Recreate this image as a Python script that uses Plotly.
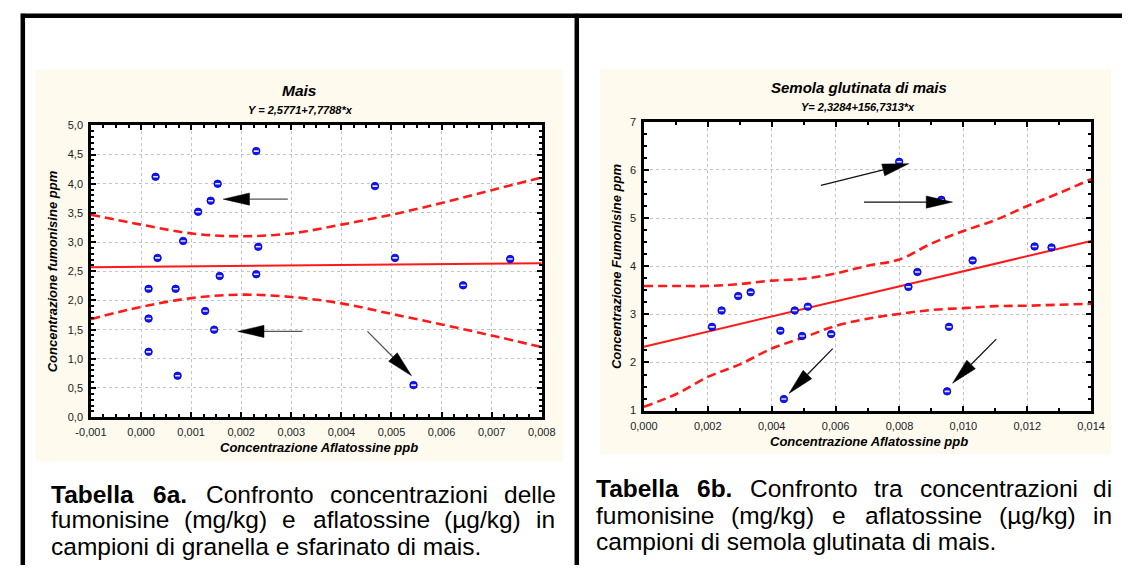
import plotly.graph_objects as go

# ---------------- data ----------------
# Panel a: Mais
maize_afla = [0.00029, 0.00033, 0.00015, 0.00069, 0.00084, 0.00114, 0.00139, 0.00153,
              0.00157, 0.00230, 0.00234, 0.00230, 0.00015, 0.00015, 0.00073, 0.00128,
              0.00146, 0.00467, 0.00507, 0.00737, 0.00643, 0.00544]
maize_fumo = [4.12, 2.73, 2.20, 2.20, 3.02, 3.52, 3.71, 4.00,
              2.42, 4.56, 2.92, 2.45, 1.69, 1.12, 0.71, 1.82,
              1.50, 3.96, 2.73, 2.71, 2.26, 0.55]
maize_fit_x = [-0.001, 0.008]
maize_fit_y = [2.569, 2.639]
maize_band_x = [-0.001, 0.000, 0.001, 0.002, 0.003, 0.004, 0.005, 0.006, 0.007, 0.008]
maize_upper = [3.47, 3.30, 3.15, 3.10, 3.15, 3.30, 3.47, 3.67, 3.89, 4.11]
maize_lower = [1.68, 1.89, 2.04, 2.10, 2.06, 1.95, 1.77, 1.59, 1.40, 1.20]
maize_xticks = [-0.001, 0.000, 0.001, 0.002, 0.003, 0.004, 0.005, 0.006, 0.007, 0.008]
maize_xlabels = ["-0,001", "0,000", "0,001", "0,002", "0,003", "0,004", "0,005", "0,006", "0,007", "0,008"]
maize_yticks = [0.0, 0.5, 1.0, 1.5, 2.0, 2.5, 3.0, 3.5, 4.0, 4.5, 5.0]
maize_ylabels = ["0,0", "0,5", "1,0", "1,5", "2,0", "2,5", "3,0", "3,5", "4,0", "4,5", "5,0"]
# arrows: (tail_x, tail_y, tip_x, tip_y) in data units
maize_arrows = [(0.00293, 3.737, 0.00164, 3.737),
                (0.00322, 1.47, 0.00193, 1.47),
                (0.00452, 1.47, 0.00540, 0.71)]

# Panel b: Semola glutinata di mais
semola_afla = [0.00213, 0.00243, 0.00295, 0.00334, 0.00427, 0.00438, 0.00472, 0.00495,
               0.00513, 0.00586, 0.00799, 0.00931, 0.00856, 0.00828, 0.01029, 0.01223,
               0.01276, 0.00955, 0.00949]
semola_fumo = [2.74, 3.08, 3.38, 3.46, 2.66, 1.24, 3.08, 2.55,
               3.16, 2.59, 6.17, 5.38, 3.88, 3.57, 4.12, 4.41,
               4.39, 2.74, 1.40]
semola_fit_x = [0.000, 0.014]
semola_fit_y = [2.328, 4.522]
semola_band_x = [0.000, 0.001, 0.002, 0.003, 0.004, 0.005, 0.006, 0.007,
                 0.008, 0.009, 0.010, 0.011, 0.012, 0.013, 0.014]
semola_upper = [3.59, 3.59, 3.59, 3.63, 3.70, 3.74, 3.85, 4.01,
                4.14, 4.47, 4.73, 4.96, 5.25, 5.52, 5.81]
semola_lower = [1.08, 1.34, 1.70, 1.96, 2.29, 2.52, 2.76, 2.91,
                3.01, 3.09, 3.13, 3.17, 3.18, 3.20, 3.22]
semola_xticks = [0.000, 0.002, 0.004, 0.006, 0.008, 0.010, 0.012, 0.014]
semola_xlabels = ["0,000", "0,002", "0,004", "0,006", "0,008", "0,010", "0,012", "0,014"]
semola_yticks = [1, 2, 3, 4, 5, 6, 7]
semola_ylabels = ["1", "2", "3", "4", "5", "6", "7"]
semola_arrows = [(0.00554, 5.678, 0.00829, 6.131),
                 (0.00689, 5.332, 0.00966, 5.332),
                 (0.00591, 2.287, 0.00454, 1.358),
                 (0.01103, 2.485, 0.00966, 1.569)]

caption_a = ["<b>Tabella 6a.</b> Confronto concentrazioni delle",
             "fumonisine (mg/kg) e aflatossine (µg/kg) in",
             "campioni di granella e sfarinato di mais."]
caption_b = ["<b>Tabella 6b.</b> Confronto tra concentrazioni di",
             "fumonisine (mg/kg) e aflatossine (µg/kg) in",
             "campioni di semola glutinata di mais."]

# ---------------- layout geometry (pixels) ----------------
W, H = 1136, 571
FONT = "Liberation Sans, Arial, Helvetica, sans-serif"
CREAM = "#FEFAEE"
BOX_A = (77, 122, 540, 420)      # plot area: left, top, right, bottom
BOX_B = (645, 118.3, 1104.3, 413.3)
CARD_A = (20, 64, 562, 465)
CARD_B = (600, 64, 1125, 458)
XR_A, YR_A = (-0.001, 0.008), (0.0, 5.0)
XR_B, YR_B = (0.0, 0.014), (1.0, 7.0)


def px(x):
    return x / W


def py(y):
    return 1 - y / H


fig = go.Figure()

band_style = dict(color="#FF1A1A", width=2.6, dash="9px,5px", shape="spline")
fit_style = dict(color="#FF1A1A", width=2)

# panel a traces
fig.add_trace(go.Scatter(x=maize_band_x, y=maize_upper, mode="lines", line=band_style,
                         xaxis="x", yaxis="y", hoverinfo="skip"))
fig.add_trace(go.Scatter(x=maize_band_x, y=maize_lower, mode="lines", line=band_style,
                         xaxis="x", yaxis="y", hoverinfo="skip"))
fig.add_trace(go.Scatter(x=maize_fit_x, y=maize_fit_y, mode="lines", line=fit_style,
                         xaxis="x", yaxis="y", hoverinfo="skip"))
fig.add_trace(go.Scatter(x=maize_afla, y=maize_fumo, mode="markers",
                         marker=dict(size=7.5, color="#1414FF", line=dict(color="#0000B0", width=0.8)),
                         xaxis="x", yaxis="y"))
fig.add_trace(go.Scatter(x=maize_afla, y=maize_fumo, mode="markers",
                         marker=dict(size=3.5, symbol="line-ew", line=dict(color="rgba(235,240,255,0.95)", width=1.6)),
                         xaxis="x", yaxis="y", hoverinfo="skip"))

# panel b traces
fig.add_trace(go.Scatter(x=semola_band_x, y=semola_upper, mode="lines", line=band_style,
                         xaxis="x2", yaxis="y2", hoverinfo="skip"))
fig.add_trace(go.Scatter(x=semola_band_x, y=semola_lower, mode="lines", line=band_style,
                         xaxis="x2", yaxis="y2", hoverinfo="skip"))
fig.add_trace(go.Scatter(x=semola_fit_x, y=semola_fit_y, mode="lines", line=fit_style,
                         xaxis="x2", yaxis="y2", hoverinfo="skip"))
fig.add_trace(go.Scatter(x=semola_afla, y=semola_fumo, mode="markers",
                         marker=dict(size=7.5, color="#1414FF", line=dict(color="#0000B0", width=0.8)),
                         xaxis="x2", yaxis="y2"))
fig.add_trace(go.Scatter(x=semola_afla, y=semola_fumo, mode="markers",
                         marker=dict(size=3.5, symbol="line-ew", line=dict(color="rgba(235,240,255,0.95)", width=1.6)),
                         xaxis="x2", yaxis="y2", hoverinfo="skip"))


def axis(box, rng, vals, labels, minor_dtick, horizontal):
    if horizontal:
        dom = [px(box[0]), px(box[2])]
    else:
        dom = [py(box[3]), py(box[1])]
    return dict(domain=dom, range=list(rng), tickmode="array", tickvals=vals, ticktext=labels,
                showline=True, linecolor="black", linewidth=2.5, mirror="ticks",
                ticks="inside", ticklen=5, tickwidth=1.5, tickcolor="black",
                showgrid=True, gridcolor="#c4c4c4", griddash="dot", gridwidth=1,
                zeroline=False, fixedrange=True, ticklabelstandoff=3,
                tickfont=dict(family=FONT, size=11, color="#222"),
                minor=dict(ticks="inside", ticklen=3, tickwidth=1.5, tickcolor="black",
                           dtick=minor_dtick, tick0=rng[0], showgrid=False))


shapes = []
# cream cards and white plot areas
for card, box in ((CARD_A, BOX_A), (CARD_B, BOX_B)):
    shapes.append(dict(type="rect", xref="paper", yref="paper", layer="below",
                       x0=px(card[0]), x1=px(card[2]), y0=py(card[3]), y1=py(card[1]),
                       fillcolor=CREAM, line=dict(width=0)))
    shapes.append(dict(type="rect", xref="paper", yref="paper", layer="below",
                       x0=px(box[0]), x1=px(box[2]), y0=py(box[3]), y1=py(box[1]),
                       fillcolor="white", line=dict(width=0)))
# page frame lines
for x0, y0, x1, y1 in ((5, 10, 1136, 10), (7, 8, 7, 571), (576, 8, 576, 571)):
    shapes.append(dict(type="line", xref="paper", yref="paper",
                       x0=px(x0), y0=py(y0), x1=px(x1), y1=py(y1),
                       line=dict(color="black", width=4.5)))


def to_pix(box, xr, yr, x, y):
    X = box[0] + (x - xr[0]) / (xr[1] - xr[0]) * (box[2] - box[0])
    Y = box[3] - (y - yr[0]) / (yr[1] - yr[0]) * (box[3] - box[1])
    return X, Y


def add_arrows(arrows, box, xr, yr, shaft_color):
    head_len, head_hw = 27, 6.2
    for tx, ty, hx, hy in arrows:
        sx, sy = to_pix(box, xr, yr, tx, ty)
        ex, ey = to_pix(box, xr, yr, hx, hy)
        dx, dy = ex - sx, ey - sy
        d = (dx * dx + dy * dy) ** 0.5
        ux, uy = dx / d, dy / d
        bx, by = ex - ux * head_len, ey - uy * head_len
        nx, ny = -uy, ux
        shapes.append(dict(type="line", xref="paper", yref="paper",
                           x0=px(sx), y0=py(sy), x1=px(bx), y1=py(by),
                           line=dict(color=shaft_color, width=1.3)))
        p1 = (bx + nx * head_hw, by + ny * head_hw)
        p2 = (bx - nx * head_hw, by - ny * head_hw)
        path = "M{},{} L{},{} L{},{} Z".format(px(ex), py(ey), px(p1[0]), py(p1[1]),
                                               px(p2[0]), py(p2[1]))
        shapes.append(dict(type="path", xref="paper", yref="paper", path=path,
                           fillcolor="black", line=dict(color="black", width=0.5)))


add_arrows(maize_arrows, BOX_A, XR_A, YR_A, "#555555")
add_arrows(semola_arrows, BOX_B, XR_B, YR_B, "#111111")

annotations = []


def text(x, y, s, size, angle=0, anchor="center", color="black"):
    annotations.append(dict(x=px(x), y=py(y), xref="paper", yref="paper", text=s,
                            showarrow=False, xanchor=anchor, yanchor="middle", textangle=angle,
                            borderpad=0, font=dict(family=FONT, size=size, color=color)))


text(291, 86, "<b><i>Mais</i></b>", 15.5)
text(292, 106, "<b><i>Y = 2,5771+7,7788*x</i></b>", 11)
text(311, 451, "<b><i>Concentrazione Aflatossine ppb</i></b>", 13)
text(37, 271, "<b><i>Concentrazione fumonisine ppm</i></b>", 13, angle=-90)

text(866, 83, "<b><i>Semola glutinata di mais</i></b>", 15)
text(865, 103, "<b><i>Y= 2,3284+156,7313*x</i></b>", 11)
text(876, 445, "<b><i>Concentrazione Aflatossine ppb</i></b>", 13)
text(617, 266, "<b><i>Concentrazione Fumonisine ppm</i></b>", 13, angle=-90)

# ---- justified captions ----
REG = {' ': 278, '(': 333, ')': 333, '/': 278, '.': 278, ',': 278, 'a': 556, 'b': 556, 'c': 500,
       'd': 556, 'e': 556, 'f': 278, 'g': 556, 'h': 556, 'i': 222, 'j': 222, 'k': 500, 'l': 222,
       'm': 833, 'n': 556, 'o': 556, 'p': 556, 'q': 556, 'r': 333, 's': 500, 't': 278, 'u': 556,
       'v': 500, 'w': 722, 'x': 500, 'y': 500, 'z': 500, 'µ': 556, 'C': 722, 'T': 611, '6': 556}
BOLD = {'T': 611, 'a': 556, 'b': 611, 'e': 556, 'l': 278, '6': 556, '.': 278, ' ': 278}

CAP_SIZE = 24.5


def word_width(word, bold):
    table = BOLD if bold else REG
    return sum(table.get(c, 556) for c in word) / 1000 * CAP_SIZE


def caption(lines, left, right, ys):
    for i, (line, yy) in enumerate(zip(lines, ys)):
        last = i == len(lines) - 1
        if last:
            text(left, yy, line, CAP_SIZE, anchor="left")
            continue
        words = []
        if line.startswith("<b>"):
            btxt, rest = line[3:].split("</b>")
            words += [(w, True) for w in btxt.split()]
            words += [(w, False) for w in rest.split()]
        else:
            words += [(w, False) for w in line.split()]
        tot = sum(word_width(w, b) for w, b in words)
        gap = (right - left - tot) / (len(words) - 1)
        x = left
        for w, b in words:
            s = "<b>" + w + "</b>" if b else w
            text(x, yy, s, CAP_SIZE, anchor="left")
            x += word_width(w, b) + gap


caption(caption_a, 35, 552, [499, 525, 552])
caption(caption_b, 595, 1124, [493, 520, 547])

fig.update_layout(
    width=W, height=H, margin=dict(l=0, r=0, t=0, b=0, pad=0),
    paper_bgcolor="white", plot_bgcolor="white", showlegend=False,
    xaxis=axis(BOX_A, XR_A, maize_xticks, maize_xlabels, 0.00025, True),
    yaxis=axis(BOX_A, YR_A, maize_yticks, maize_ylabels, 0.1, False),
    xaxis2=axis(BOX_B, XR_B, semola_xticks, semola_xlabels, 0.001, True),
    yaxis2=axis(BOX_B, YR_B, semola_yticks, semola_ylabels, 0.25, False),
    shapes=shapes, annotations=annotations,
)
fig.update_layout(xaxis=dict(anchor="y"), yaxis=dict(anchor="x"),
                  xaxis2=dict(anchor="y2"), yaxis2=dict(anchor="x2"))

PIN_PAGE = (
    "document.documentElement.style.margin='0';document.documentElement.style.padding='0';"
    "document.documentElement.style.overflow='hidden';"
    "document.body.style.margin='0';document.body.style.padding='0';"
    "document.body.style.overflow='hidden';"
    "var gd=document.getElementsByClassName('plotly-graph-div')[0];"
    "gd.style.position='fixed';gd.style.left='0px';gd.style.top='0px';"
)

fig.write_html("out.html", config={"displayModeBar": False, "staticPlot": False},
               post_script=PIN_PAGE)
